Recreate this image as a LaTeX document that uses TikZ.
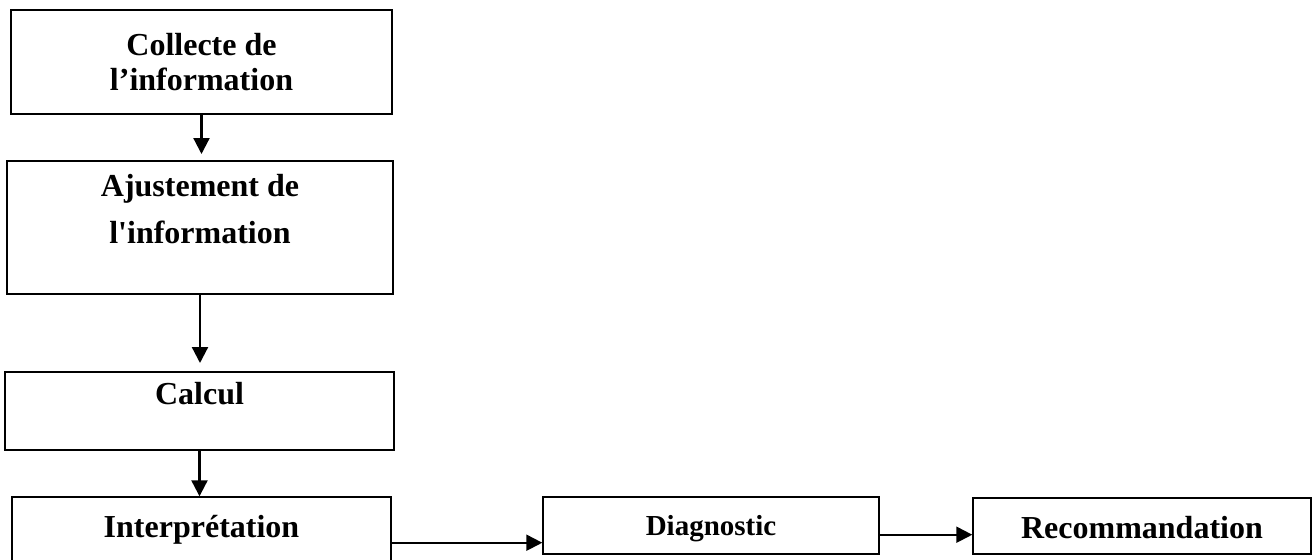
\documentclass[tikz,border=0pt]{standalone}
\usepackage{fontspec}
\setmainfont{Liberation Serif}[Ligatures=TeXOff]
\usetikzlibrary{arrows.meta}
\newcommand{\cadre}[4]{\parbox[c][#2][t]{#1}{\centering\rule{0pt}{#3}#4\par}}
\tikzset{
  etape/.style={draw, line width=1pt, inner sep=0pt, font=\fontsize{16}{17.5}\selectfont\bfseries},
  fleche/.style={line width=1.1pt, -{Triangle[length=8pt,width=8pt]}}
}
\begin{document}
\begin{tikzpicture}[x=0.5pt,y=-0.5pt]
\useasboundingbox (0,0) rectangle (1313,559);
\node[etape] (1) at (201.5,62) {\cadre{190.5pt}{52pt}{22.5pt}{Collecte de\\l’information}};
\node[etape] (2) at (200,227.5) {\cadre{193pt}{66.5pt}{17.5pt}{Ajustement de\\[6pt]l'information}};
\node[etape] (3) at (199.5,411) {\cadre{194.5pt}{39pt}{16pt}{Calcul}};
\node[etape, line width=0.7pt] (4) at (201.5,538.5) {\cadre{189.5pt}{41.5pt}{20pt}{Interprétation}};
\node[etape, line width=0.7pt, font=\fontsize{14.5}{17}\selectfont\bfseries] (5) at (711,525.5) {\cadre{168pt}{28.5pt}{19pt}{Diagnostic}};
\node[etape, line width=0.7pt] (6) at (1142,526) {\cadre{169pt}{28pt}{20pt}{Recommandation}};
\coordinate (p) at ([yshift=6pt]5.south west);
\coordinate (q) at ([yshift=10pt]6.south west);
\path[draw,fleche,shorten >=3pt] (1.south) -- (1.south |- 2.north);
\path[draw,fleche,shorten >=4pt] (2.south) -- (2.south |- 3.north);
\path[draw,fleche] (3.south) -- (3.south |- 4.north);
\path[draw,fleche,line width=1pt] (p -| 4.east) -- (p);
\path[draw,fleche,line width=1pt] (q -| 5.east) -- (q);
\end{tikzpicture}
\end{document}
